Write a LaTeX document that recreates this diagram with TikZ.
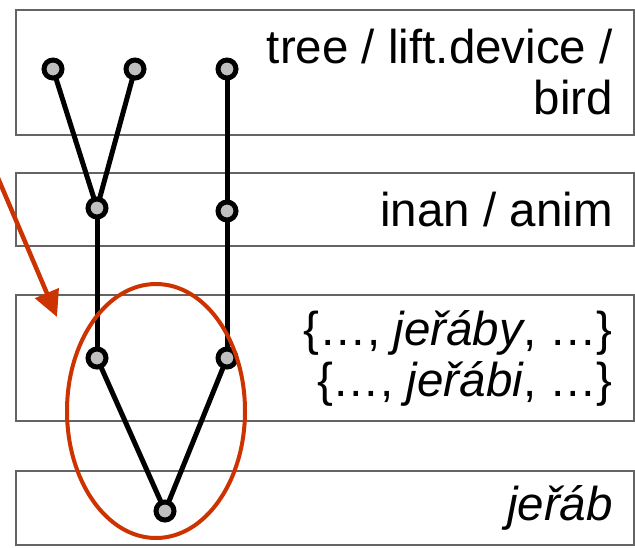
\documentclass[tikz,border=0pt]{standalone}
\usepackage{fontspec}
\setmainfont{Liberation Sans}
\usetikzlibrary{arrows.meta}

\definecolor{rust}{RGB}{204,51,0}
\definecolor{dotgray}{RGB}{192,192,192}
\definecolor{framegray}{RGB}{100,100,100}

\tikzset{
	,font = \fontsize{47.5}{51}\selectfont
	,levelbox/.style = {draw=framegray, line width=1.6pt}
	,levellabel/.style = {anchor=east, align=right, inner sep=0pt}
	,mynode/.style  = {circle, draw=black, line width=5pt, fill=dotgray, minimum size=18pt, inner sep=0pt}
	,edgen/.style = {-, line width=5pt, black}
	,edger/.style = {-{Triangle[length=26pt,width=25pt]}, line width=4.5pt, rust}
}

\begin{document}
\begin{tikzpicture}[x=1pt, y=-1pt]
				\useasboundingbox (0,0) rectangle (635,547);
				% levels
				\draw[levelbox] (16,10) rectangle (634,135);
				\draw[levelbox] (16,173) rectangle (634,246);
				\draw[levelbox] (16,295) rectangle (634,421);
				\draw[levelbox] (16,471) rectangle (634,545);
				\node[levellabel] at (613, 72.5) (sense) {tree / lift.device /\\bird};
				\node[levellabel] at (613, 209.5) (gender) {inan / anim};
				\node[levellabel] at (613, 358) (forms) {\{…, \textit{jeřáby}, …\}\\\{…, \textit{jeřábi}, …\}};
				\node[levellabel] at (613, 508) (lemma) {\textit{jeřáb}};
				% edges
				\coordinate (tree) at (53, 69);
				\coordinate (lift) at (135, 69);
				\coordinate (bird) at (227, 69);
				\coordinate (inan) at (97, 208);
				\coordinate (anim) at (227, 211);
				\coordinate (formy) at (97, 358);
				\coordinate (formi) at (227, 358);
				\coordinate (jerab) at (165, 511);
				\draw[edgen] (tree) -- (inan);
				\draw[edgen] (lift) -- (inan);
				\draw[edgen] (bird) -- (anim);
				\draw[edgen] (inan) -- (formy);
				\draw[edgen] (anim) -- (formi);
				\draw[edgen] (formy) -- (jerab);
				\draw[edgen] (formi) -- (jerab);
				% nodes
				\node[mynode] at (tree) (n1) {};
				\node[mynode] at (lift) (n2) {};
				\node[mynode] at (bird) (n3) {};
				\node[mynode] at (inan) (n4) {};
				\node[mynode] at (anim) (n5) {};
				\node[mynode] at (formy) (n6) {};
				\node[mynode] at (formi) (n7) {};
				\node[mynode] at (jerab) (n8) {};
				% highlight
				\draw[rust, line width=4pt] (156, 411) ellipse [x radius=89, y radius=127];
				\coordinate (from) at (-5, 171);
				\coordinate (to) at (57, 317);
				\draw[edger] (from) -- (to);
			\end{tikzpicture}
\end{document}
